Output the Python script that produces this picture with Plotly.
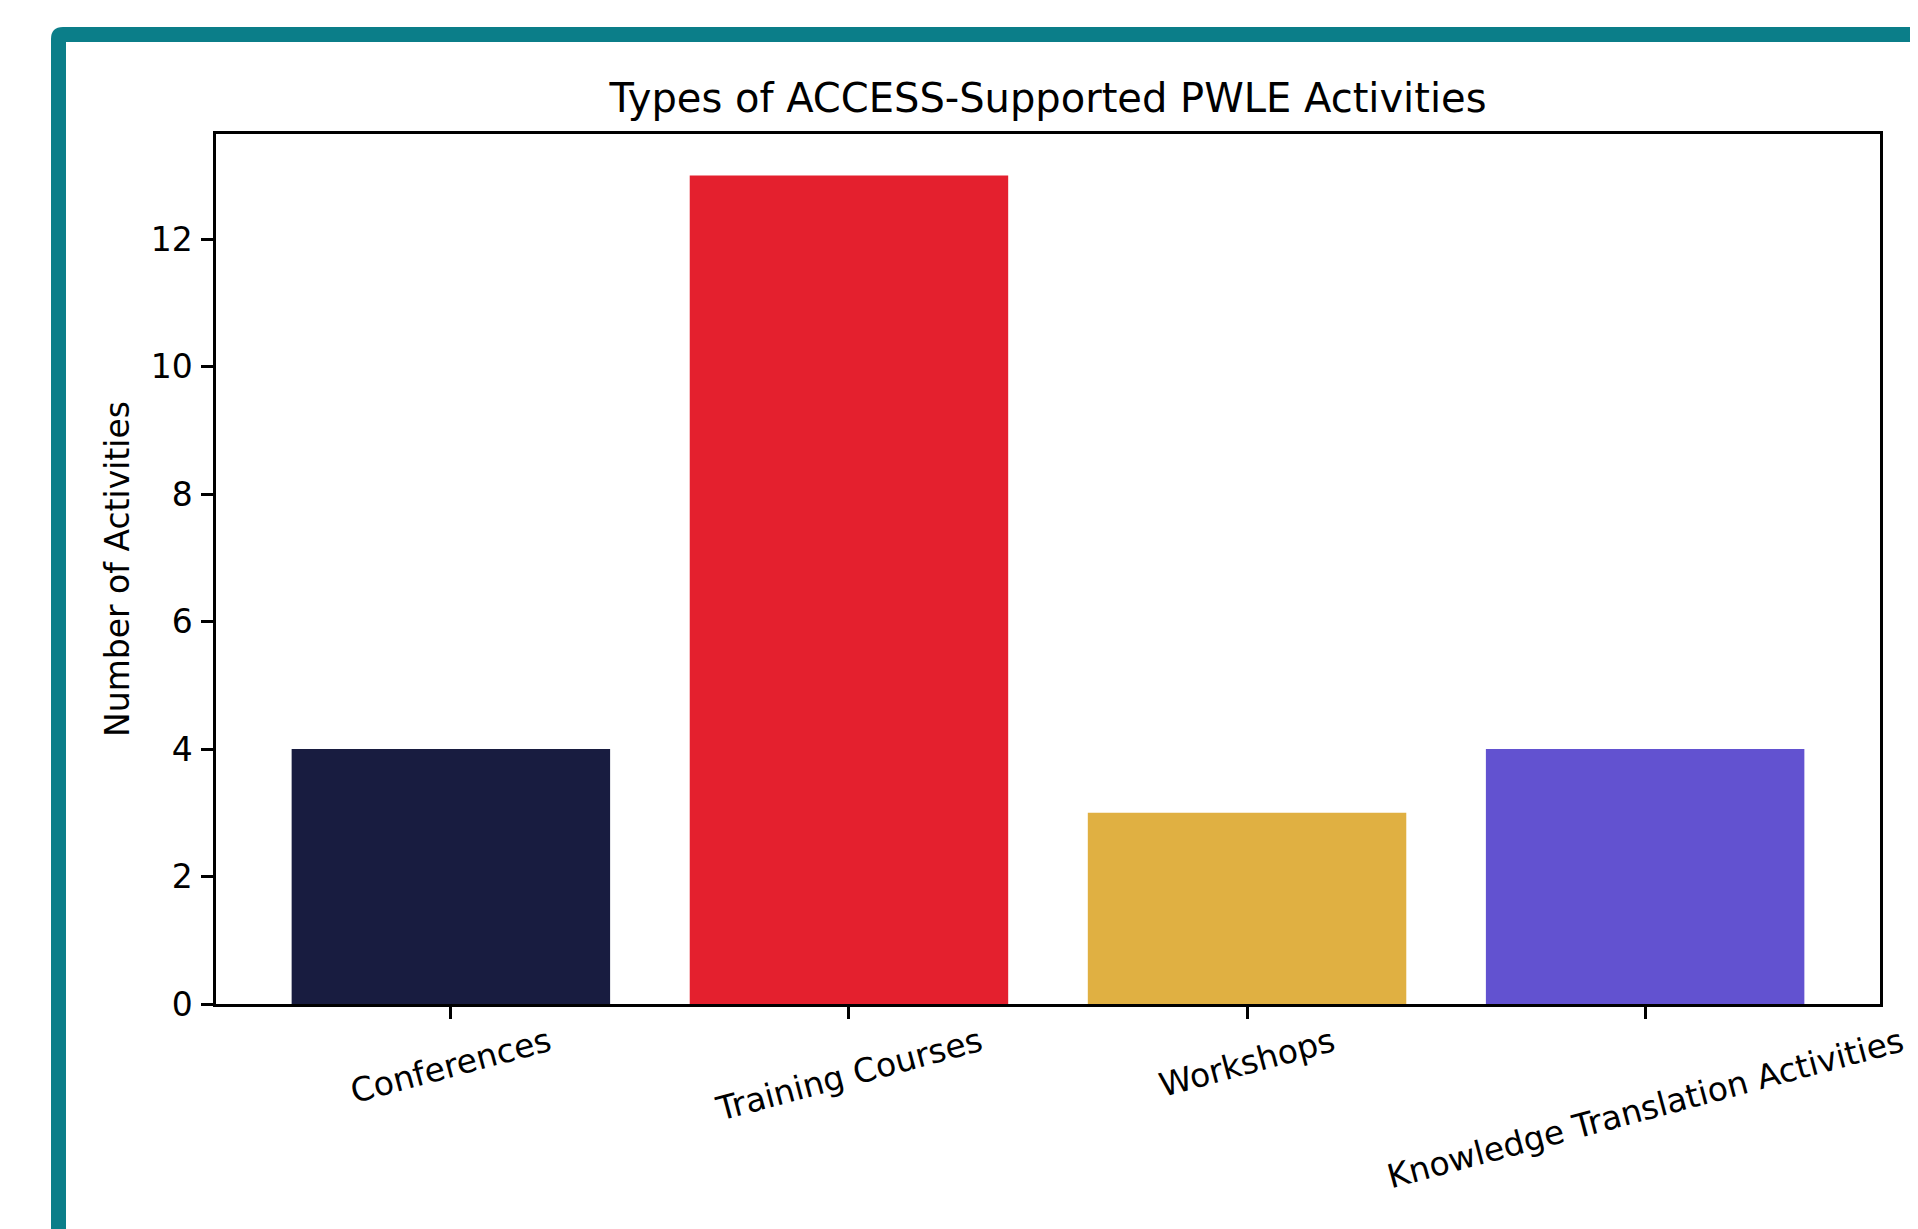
import plotly.graph_objects as go

categories = ["Conferences", "Training Courses", "Workshops", "Knowledge Translation Activities"]
values = [4, 13, 3, 4]
bar_colors = ["#181C40", "#E4202E", "#E0B042", "#6252D0"]
y_ticks = [0, 2, 4, 6, 8, 10, 12]

W, H = 1918, 1229
OFF = 8  # page body margin shift
L, R, T, B = 216 - OFF, 1880 - OFF, 134 - OFF, 1004 - OFF
FONT = "DejaVu Sans"
TEAL = "#0B7E89"

def px(x):
    return (x - OFF - L) / (R - L)

def py(y):
    return (B - (y - OFF)) / (B - T)

fig = go.Figure()
fig.add_trace(go.Bar(
    x=categories, y=values,
    marker=dict(color=bar_colors, line=dict(width=0)),
    showlegend=False,
))

r = 12
path = (
    f"M {px(51)},{py(1280)} L {px(51)},{py(27 + r)} "
    f"Q {px(51)},{py(27)} {px(51 + r)},{py(27)} "
    f"L {px(1960)},{py(27)} L {px(1960)},{py(42)} "
    f"L {px(66)},{py(42)} L {px(66)},{py(1280)} Z"
)
fig.add_shape(type="path", path=path, xref="paper", yref="paper",
              fillcolor=TEAL, line=dict(width=0), layer="above")

for c in categories:
    fig.add_annotation(x=c, xref="x", y=0, yref="paper", yanchor="top",
                       xanchor="center", yshift=-14, text=c, textangle=-15,
                       showarrow=False, font=dict(family=FONT, size=33, color="black"))

fig.update_layout(
    width=W, height=H,
    margin=dict(l=L, r=W - R, t=T, b=H - B, pad=0),
    paper_bgcolor="white", plot_bgcolor="white",
    bargap=0.2,
    font=dict(family=FONT, size=33, color="black"),
    title=dict(text="Types of ACCESS-Supported PWLE Activities",
               x=0.5, xref="paper", y=1 - (98 - OFF) / H, yref="container",
               xanchor="center", yanchor="middle",
               font=dict(family=FONT, size=40, color="black")),
    xaxis=dict(range=[-0.59, 3.59], showline=True, mirror=True, linecolor="black",
               linewidth=2.5, ticks="outside", ticklen=12, tickwidth=2.5,
               tickcolor="black", showticklabels=False, showgrid=False, zeroline=False),
    yaxis=dict(range=[0, 13.65], tickvals=y_ticks, showline=True, mirror=True,
               linecolor="black", linewidth=2.5, ticks="outside", ticklen=12,
               tickwidth=2.5, tickcolor="black", showgrid=False, zeroline=False,
               ticklabelstandoff=2,
               tickfont=dict(family=FONT, size=33, color="black"),
               title=dict(text="Number of Activities", standoff=12,
                          font=dict(family=FONT, size=33, color="black"))),
)

fig.write_html("out.html")
